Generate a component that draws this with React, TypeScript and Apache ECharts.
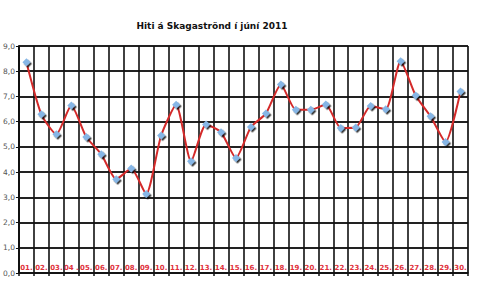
import React, { useEffect, useRef } from "react";
import * as echarts from "echarts";

const days = ["01.", "02.", "03.", "04 .", "05.", "06.", "07.", "08.", "09.", "10.", "11.", "12.", "13.", "14.", "15.", "16.", "17.", "18.", "19.", "20.", "21.", "22.", "23.", "24.", "25.", "26.", "27.", "28.", "29.", "30."];
const temps = [8.36, 6.29, 5.5, 6.64, 5.39, 4.71, 3.72, 4.14, 3.13, 5.45, 6.67, 4.43, 5.89, 5.58, 4.56, 5.79, 6.32, 7.47, 6.47, 6.47, 6.68, 5.75, 5.77, 6.62, 6.49, 8.4, 7.04, 6.21, 5.19, 7.2];
const title = "Hiti á Skagaströnd í júní 2011";

export default function App() {
  const ref = useRef<HTMLDivElement>(null);
  useEffect(() => {
    if (!ref.current) return;
    const chart = echarts.init(ref.current, null, { renderer: "svg" });
    chart.setOption({
      animation: false,
      backgroundColor: "#fff",
      title: {
        text: title,
        left: 207,
        textAlign: "center",
        top: 16,
        textStyle: { fontFamily: "DejaVu Sans", fontWeight: "bold", fontSize: 9, color: "#111" },
      },
      grid: { left: 18, right: 12, top: 46, bottom: 19, show: true, borderColor: "#999", borderWidth: 1 },
      xAxis: {
        type: "category",
        data: days,
        boundaryGap: true,
        axisLine: { lineStyle: { color: "#111", width: 1.5 } },
        axisTick: { show: true, length: 3, lineStyle: { color: "#111", width: 1.5 } },
        splitLine: { show: true, lineStyle: { color: "#111", width: 1.6 } },
        axisLabel: {
          inside: true,
          margin: 2,
          interval: 0,
          color: "#e0323c",
          fontFamily: "DejaVu Sans",
          fontWeight: "bold",
          fontSize: 7,
        },
      },
      yAxis: {
        type: "value",
        min: 0,
        max: 9,
        interval: 1,
        axisLine: { show: true, lineStyle: { color: "#111", width: 2 } },
        axisTick: { show: true, length: 3, lineStyle: { color: "#111" } },
        splitLine: { show: true, lineStyle: { color: "#222", width: 2 } },
        axisLabel: {
          margin: 4,
          color: "#555",
          fontFamily: "DejaVu Sans",
          fontSize: 7.5,
          formatter: (v: number) => v.toFixed(1).replace(".", ","),
        },
      },
      series: [
        {
          type: "line",
          data: temps,
          smooth: 0.2,
          lineStyle: { color: "#d42a2a", width: 2 },
          symbol: "diamond",
          symbolSize: 8,
          itemStyle: { color: "#86b6e6", shadowColor: "rgba(0,0,0,0.8)", shadowOffsetX: 1.5, shadowOffsetY: 1.5, shadowBlur: 0 },
        },
      ],
    });
    return () => chart.dispose();
  }, []);
  return <div ref={ref} style={{ width: 480, height: 292, position: "absolute", left: 0, top: 0 }} />;
}
